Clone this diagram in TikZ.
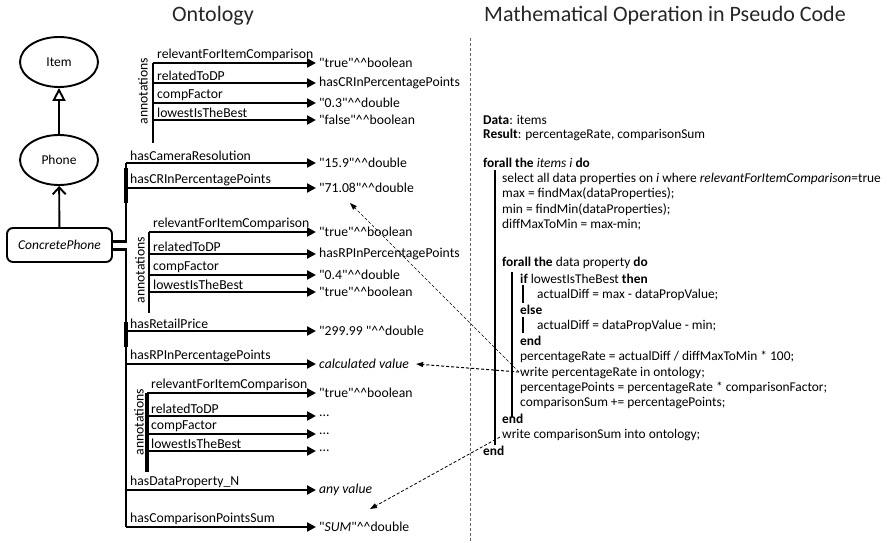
\documentclass[tikz,border=0pt]{standalone}
\usepackage{fontspec}
\setmainfont{Carlito}[Ligatures=TeXOff]
\usetikzlibrary{arrows.meta,shapes.geometric}

\newcommand{\hh}{\textasciicircum\textasciicircum}

\begin{document}
\begin{tikzpicture}[x=1pt,y=-1pt,
  cls/.style={draw,line width=1.9pt,ellipse,minimum width=78pt,minimum height=50pt,font=\fontsize{13.5}{15}\selectfont},
  inst/.style={draw,line width=1.9pt,rounded corners=6pt,minimum width=105pt,minimum height=34pt,font=\fontsize{13.5}{15}\selectfont\itshape},
  spine/.style={line width=2.3pt},
  prop/.style={line width=2.3pt,-{Triangle[length=9pt,width=9pt]}},
  plabel/.style={font=\fontsize{13.7}{15}\selectfont,anchor=south west,inner sep=1pt,xshift=2pt},
  val/.style={font=\fontsize{13.7}{15}\selectfont,anchor=west,inner sep=3pt},
  annot/.style={font=\fontsize{13.7}{15}\selectfont,rotate=90,inner sep=0pt},
  title/.style={font=\fontsize{22}{24}\selectfont,text=black!85},
  code/.style={font=\fontsize{13.4}{15}\selectfont,anchor=west,inner sep=0pt},
  bar/.style={line width=1.1pt},
  dasharrow/.style={line width=0.8pt,dash pattern=on 3pt off 2pt,-{Triangle[length=7pt,width=5pt]}}
]
\useasboundingbox (0,0) rectangle (887,543);

% headings and separator
\node[title] (t1) at (213,16) {Ontology};
\node[title] (t2) at (665,16) {Mathematical Operation in Pseudo Code};
\coordinate (sepTop) at (470,38);
\coordinate (sepBot) at (470,543);
\draw[black!60,line width=0.9pt,dash pattern=on 3pt off 2pt] (sepTop) -- (sepBot);

% class hierarchy
\node[cls] (item) at (59,62) {Item};
\node[cls] (phone) at (59,160) {Phone};
\node[inst] (cp) at (59.5,245) {ConcretePhone};
\draw[line width=1.9pt,-{Triangle[open,length=13pt,width=13pt,line width=1.9pt]}] (phone) -- (item);
\draw[line width=1.9pt,-{Straight Barb[length=7pt,width=13pt,line width=1.9pt]}] (cp) -- (phone);

% main spine of data properties
\coordinate (spTop) at (126,163);
\coordinate (spBot) at (126,527);
\coordinate (cpA) at (126,241.5);
\coordinate (cpB) at (126,249.5);
\draw[spine] ([yshift=3.5pt]cp.east) -- (cpA) -- (spTop);
\draw[spine] ([yshift=-4.5pt]cp.east) -- (cpB) -- (spBot);
\coordinate (k1a) at (126,168); \coordinate (k1b) at (126,203);
\coordinate (k2a) at (126,322); \coordinate (k2b) at (126,347);
\draw[line width=4pt] (k1a) -- (k1b);
\draw[line width=4pt] (k2a) -- (k2b);

% data properties of ConcretePhone
\node[val] (v1) at (316,163) {"15.9"\hh double};
\draw[prop] (spTop) -- (v1.west) node[plabel,pos=0] {hasCameraResolution};
\coordinate (p2) at (126,188);
\node[val] (v2) at (316,188) {"71.08"\hh double};
\draw[prop] (p2) -- (v2.west) node[plabel,pos=0] {hasCRInPercentagePoints};
\coordinate (p3) at (126,331);
\node[val] (v3) at (316,331) {"299.99 "\hh double};
\draw[prop] (p3) -- (v3.west) node[plabel,pos=0] {hasRetailPrice};
\coordinate (p4) at (126,364);
\node[val] (v4) at (316,364) {\itshape calculated value};
\draw[prop] (p4) -- (v4.west) node[plabel,pos=0] {hasRPInPercentagePoints};
\coordinate (p5) at (126,490);
\node[val] (v5) at (316,490) {\itshape any value};
\draw[prop] (p5) -- (v5.west) node[plabel,pos=0] {hasDataProperty\_N};
\node[val] (v6) at (316,527) {"\textit{SUM}"\hh double};
\draw[prop] (spBot) -- (v6.west) node[plabel,pos=0] {hasComparisonPointsSum};

% annotations of hasCameraResolution
\coordinate (a1t) at (153,63);
\coordinate (a1b) at (153,143);
\draw[spine] (a1t) -- (a1b);
\node[annot] (an1) at (143,91) {annotations};
\node[val] (a1v1) at (316,63) {"true"\hh boolean};
\draw[prop] (a1t) -- (a1v1.west) node[plabel,pos=0] {relevantForItemComparison};
\coordinate (a1p2) at (153,83);
\node[val] (a1v2) at (316,83) {hasCRInPercentagePoints};
\draw[prop] (a1p2) -- (a1v2.west) node[plabel,pos=0] {relatedToDP};
\coordinate (a1p3) at (153,103);
\node[val] (a1v3) at (316,103) {"0.3"\hh double};
\draw[prop] (a1p3) -- (a1v3.west) node[plabel,pos=0] {compFactor};
\coordinate (a1p4) at (153,120);
\node[val] (a1v4) at (316,120) {"false"\hh boolean};
\draw[prop] (a1p4) -- (a1v4.west) node[plabel,pos=0] {lowestIsTheBest};

% annotations of hasRetailPrice
\coordinate (a2t) at (149,232);
\coordinate (a2b) at (149,313);
\draw[spine] (a2t) -- (a2b);
\node[annot] (an2) at (140,270) {annotations};
\node[val] (a2v1) at (316,232) {"true"\hh boolean};
\draw[prop] (a2t) -- (a2v1.west) node[plabel,pos=0] {relevantForItemComparison};
\coordinate (a2p2) at (149,254);
\node[val] (a2v2) at (316,254) {hasRPInPercentagePoints};
\draw[prop] (a2p2) -- (a2v2.west) node[plabel,pos=0] {relatedToDP};
\coordinate (a2p3) at (149,275);
\node[val] (a2v3) at (316,275) {"0.4"\hh double};
\draw[prop] (a2p3) -- (a2v3.west) node[plabel,pos=0] {compFactor};
\coordinate (a2p4) at (149,292);
\node[val] (a2v4) at (316,292) {"true"\hh boolean};
\draw[prop] (a2p4) -- (a2v4.west) node[plabel,pos=0] {lowestIsTheBest};

% annotations of hasDataProperty_N
\coordinate (a3t) at (147,393);
\coordinate (a3b) at (147,472);
\draw[line width=3.4pt] (a3t) -- (a3b);
\node[annot] (an3) at (139,422) {annotations};
\node[val] (a3v1) at (316,393) {"true"\hh boolean};
\draw[prop] (a3t) -- (a3v1.west) node[plabel,pos=0] {relevantForItemComparison};
\coordinate (a3p2) at (147,416);
\node[val] (a3v2) at (316,416) {...};
\draw[prop] (a3p2) -- (a3v2.west) node[plabel,pos=0] {relatedToDP};
\coordinate (a3p3) at (147,434);
\node[val] (a3v3) at (316,434) {...};
\draw[prop] (a3p3) -- (a3v3.west) node[plabel,pos=0] {compFactor};
\coordinate (a3p4) at (147,451);
\node[val] (a3v4) at (316,451) {...};
\draw[prop] (a3p4) -- (a3v4.west) node[plabel,pos=0] {lowestIsTheBest};

% pseudo code
\node[code] (c1) at (483,120) {\textbf{Data}: items};
\node[code] (c2) at (483,135) {\textbf{Result}: percentageRate, comparisonSum};
\node[code] (c3) at (483,163) {\textbf{forall the} \textit{items i} \textbf{do}};
\node[code] (c4) at (502,178.5) {select all data properties on \textit{i} where \textit{relevantForItemComparison}=true};
\node[code] (c5) at (502,194) {max = findMax(dataProperties);};
\node[code] (c6) at (502,209.5) {min = findMin(dataProperties);};
\node[code] (c7) at (502,225) {diffMaxToMin = max-min;};
\node[code] (c8) at (502,262.5) {\textbf{forall the} data property \textbf{do}};
\node[code] (c9) at (520,278.5) {\textbf{if} lowestIsTheBest \textbf{then}};
\node[code] (c10) at (537,294.5) {actualDiff = max - dataPropValue;};
\node[code] (c11) at (520,310) {\textbf{else}};
\node[code] (c12) at (537,325.5) {actualDiff = dataPropValue - min;};
\node[code] (c13) at (520,341) {\textbf{end}};
\node[code] (c14) at (520,357) {percentageRate = actualDiff / diffMaxToMin * 100;};
\node[code] (c15) at (520,372.5) {write percentageRate in ontology;};
\node[code] (c16) at (520,388) {percentagePoints = percentageRate * comparisonFactor;};
\node[code] (c17) at (520,403.5) {comparisonSum += percentagePoints;};
\node[code] (c18) at (502,419) {\textbf{end}};
\node[code] (c19) at (502,435) {write comparisonSum into ontology;};
\node[code] (c20) at (483,450.5) {\textbf{end}};

% block bars
\coordinate (b1t) at (495,170); \coordinate (b1b) at (495,445);
\draw[bar] (b1t) -- (b1b);
\coordinate (b2t) at (512,272); \coordinate (b2m) at (512,343); \coordinate (b2b) at (512,417);
\draw[line width=2pt] (b2t) -- (b2m);
\draw[bar] (b2m) -- (b2b);
\coordinate (b2x) at (512,358); \coordinate (b2y) at (512,382);
\draw[line width=2pt] (b2x) -- (b2y);
\coordinate (b3t) at (523,285); \coordinate (b3b) at (523,303);
\draw[bar] (b3t) -- (b3b);
\coordinate (b4t) at (523,317); \coordinate (b4b) at (523,333);
\draw[bar] (b4t) -- (b4b);

% links from the code to the ontology
\coordinate (w1) at (519,372);
\coordinate (t71) at (350,203);
\draw[dasharrow,line width=0.7pt] (w1) -- (t71);
\draw[dasharrow,line width=1pt] (w1) -- ([xshift=4pt]v4.east);
\coordinate (w2) at (500,437);
\coordinate (tsum) at (370,509);
\draw[dasharrow] (w2) -- (tsum);
\end{tikzpicture}
\end{document}
